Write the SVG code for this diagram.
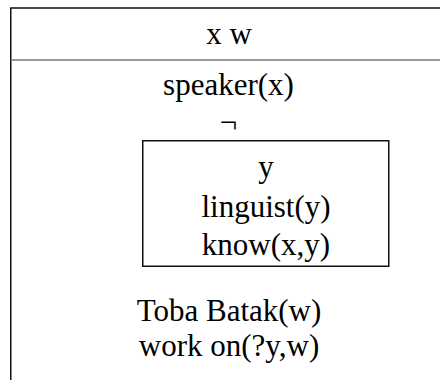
<svg xmlns="http://www.w3.org/2000/svg" width="440" height="380" viewBox="0 0 440 380">
  <style>
    .frame { fill: none; stroke: #111; stroke-width: 1.5; }
    .rule { stroke: #777; stroke-width: 1.6; }
    .t { font-family: "Liberation Serif", "Times New Roman", serif; font-size: 31px; fill: #000; text-anchor: middle; }
  </style>
  <rect width="440" height="380" fill="#fff"/>

  <!-- outer DRS box: universe header above the rule, conditions below -->
  <g id="drs-outer">
    <path class="frame" d="M 460 8 H 10.75 V 390"/>
    <line class="rule" x1="10.75" y1="60" x2="460" y2="60"/>
    <text class="t" x="229" y="44">x w</text>
    <text class="t" x="228.5" y="95">speaker(x)</text>
    <text class="t" x="228.5" y="133">¬</text>
    <text class="t" x="229" y="321">Toba Batak(w)</text>
    <text class="t" x="229" y="356">work on(?y,w)</text>
  </g>

  <!-- embedded box under the negation -->
  <g id="drs-negated">
    <rect class="frame" x="142.75" y="140.75" width="246" height="125.5"/>
    <text class="t" x="266" y="177">y</text>
    <text class="t" x="266" y="217">linguist(y)</text>
    <text class="t" x="266" y="255">know(x,y)</text>
  </g>

  <g id="connectors"></g>
</svg>
